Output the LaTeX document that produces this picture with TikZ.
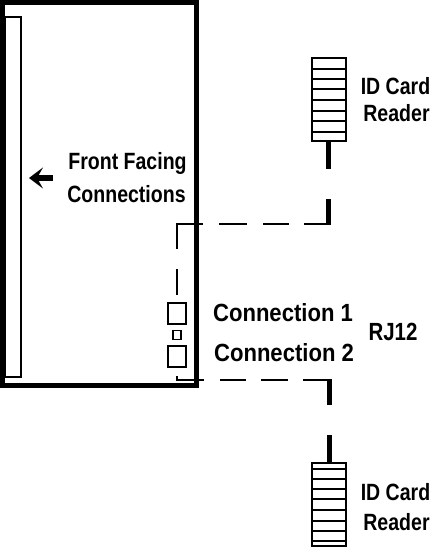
\documentclass[tikz,border=0pt]{standalone}
\usepackage{fontspec}
\setmainfont{Liberation Sans}
\usetikzlibrary{arrows.meta,positioning}
\tikzset{
  x=1pt,y=-1pt,
  box/.style={draw=black,line width=2pt,fill=white,minimum width=17.5pt,minimum height=21pt,inner sep=0pt,outer sep=0pt},
  smallbox/.style={draw=black,line width=1.5pt,minimum width=8pt,minimum height=9pt,inner sep=0pt,outer sep=0pt},
  rfid/.style={draw=black,line width=2.4pt,minimum width=33.5pt,minimum height=83pt,inner sep=0pt,outer sep=0pt},
  stem/.style={line width=5.5pt},
  dashline/.style={line width=2.2pt},
  rowline/.style={line width=1.5pt},
  lab/.style={font=\bfseries\fontsize{21}{25}\selectfont,xscale=.93,yscale=1.12,transform shape,inner sep=0pt,anchor=center},
  labbig/.style={font=\bfseries\fontsize{23}{27}\selectfont,xscale=.96,yscale=1.08,transform shape,inner sep=0pt,anchor=center},
  labrj/.style={font=\bfseries\fontsize{23}{27}\selectfont,xscale=.89,yscale=1.08,transform shape,inner sep=0pt,anchor=center}
}
\begin{document}
\begin{tikzpicture}
\useasboundingbox (0,0) rectangle (430,550);
% cabinet
\node[draw=black,line width=5.5pt,minimum width=194pt,minimum height=383pt,inner sep=0pt,outer sep=0pt] (cab) at (99.5,194) {};
\node[draw=black,line width=1.8pt,minimum width=16pt,minimum height=360pt,inner sep=0pt,outer sep=0pt] (panel) at (13,197) {};
% connectors
\node[box] (c1) at (176.75,313) {};
\node[smallbox] (c0) at (176.75,335) {};
\node[box] (c2) at (176.75,356) {};
% readers
\node[rfid] (r1) at (329,99.5) {};
\node[rfid] (r2) at (329,504.5) {};
\foreach \y in {69,79,89,100,111,121,132}
  \draw[rowline] (311,\y) -- (347,\y);
\foreach \y in {469,479,489,499,510,521,531,541}
  \draw[rowline] (311,\y) -- (347,\y);
% stems
\coordinate (e1) at (328.5,225);
\coordinate (e2) at (329.5,380);
\draw[stem] (r1.south -| e1) ++(0,1) coordinate (s1) -- (328.5,169);
\draw[stem] (e1) -- (328.5,199);
\draw[stem] (e2 |- 0,379) -- (329.5,405);
\draw[stem] (r2.north -| e2) -- (329.5,435);
% dashed
\draw[dashline,dash pattern=on 25pt off 15pt on 26pt off 16pt on 28pt off 16pt on 51pt off 20pt on 26pt off 200pt] (e1 |- 0,224) -| (c1.north);
\draw[dashline,dash pattern=on 27pt off 15pt on 27pt off 15pt on 26pt off 16pt on 31pt off 200pt] (e2) -| (c2.south);
% arrow
\coordinate (a1) at (53,178);
\coordinate (a2) at (29,178);
\draw[line width=5.5pt,-{Stealth[length=14pt,width=21pt,inset=6pt]}] (a1) -- (a2);
% labels
\node[lab] (t1) at (127.5,163) {Front Facing};
\node[lab] (t2) at (126.5,194) {Connections};
\node[lab] (t3) at (395.5,86) {ID Card};
\node[lab] (t4) at (396.5,113) {Reader};
\node[lab] (t5) at (395.5,492) {ID Card};
\node[lab] (t6) at (396.5,522) {Reader};
\node[labbig] (t7) at (283,313) {Connection 1};
\node[labbig] (t8) at (284,353) {Connection 2};
\node[labrj] (t9) at (393,332) {RJ12};
\end{tikzpicture}
\end{document}
